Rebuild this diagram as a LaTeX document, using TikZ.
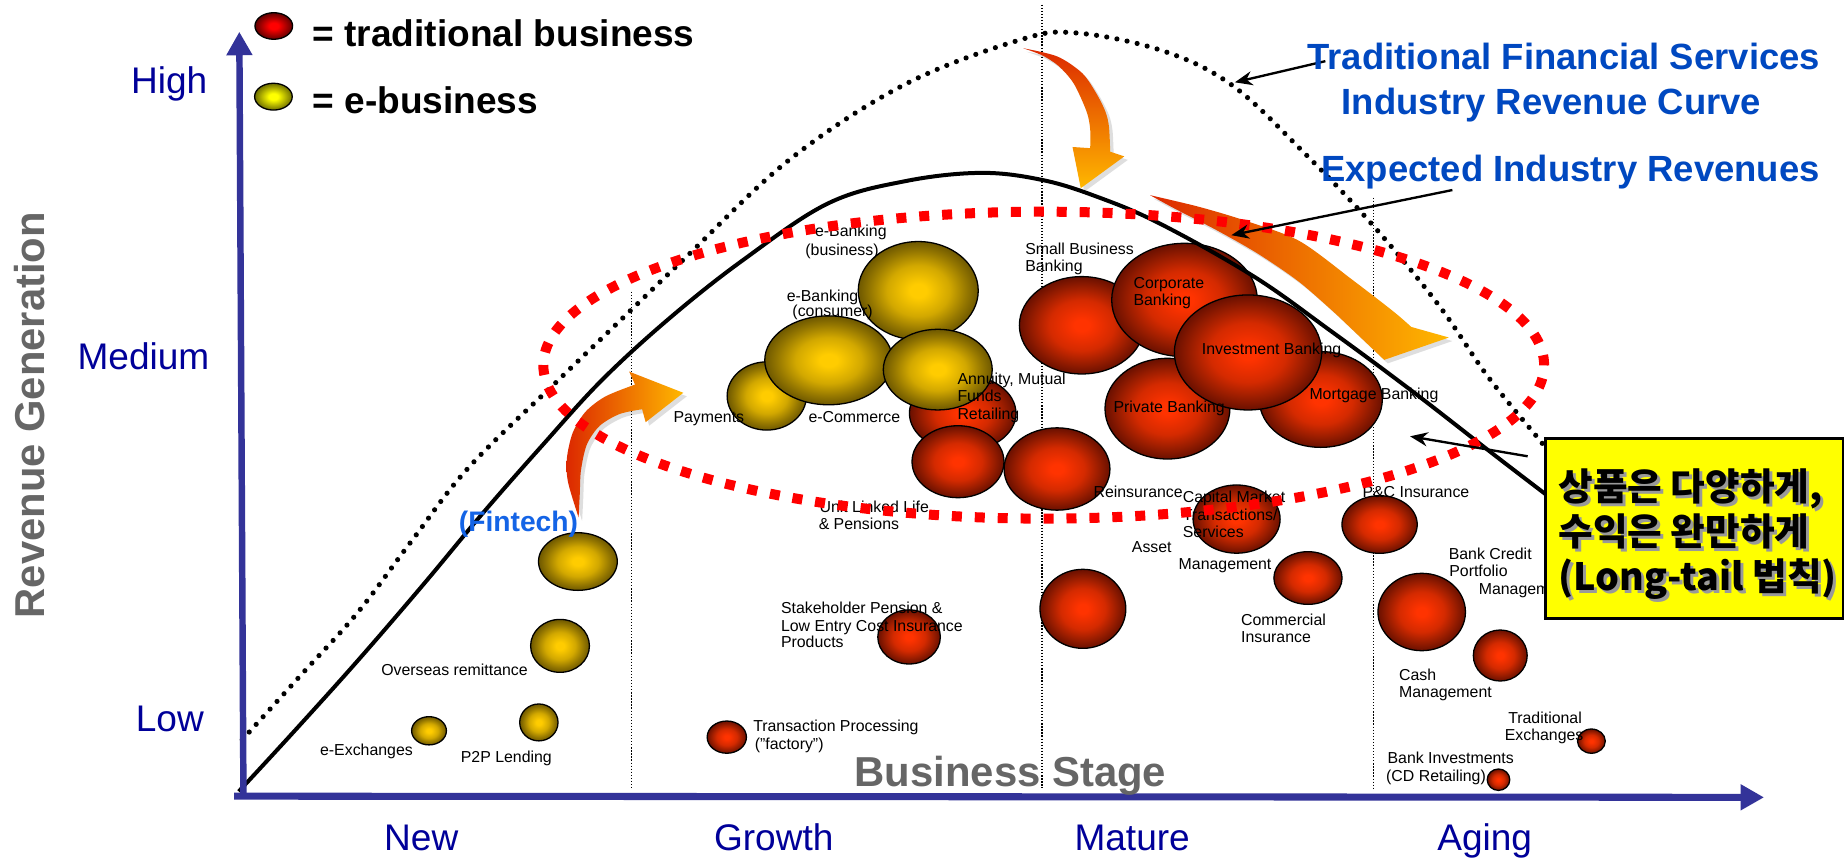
\documentclass[tikz,border=0pt]{standalone}
\usepackage{fontspec}
\setmainfont{Liberation Sans}
\newfontfamily\krfont{Noto Sans CJK KR}
\usetikzlibrary{shapes.geometric,arrows.meta}
\definecolor{axisblue}{HTML}{333399}
\definecolor{lblblue}{HTML}{000099}
\definecolor{titleblue}{HTML}{0048C0}
\definecolor{fintechblue}{HTML}{1464E6}
\definecolor{stagegray}{HTML}{666666}
\definecolor{rbc}{HTML}{FF3300}
\definecolor{rbm}{HTML}{D42A00}
\definecolor{rbd}{HTML}{961C00}
\definecolor{rbe}{HTML}{6A1000}
\definecolor{gbc}{HTML}{FFCC00}
\definecolor{gbm}{HTML}{D2A800}
\definecolor{gbd}{HTML}{967800}
\definecolor{gbe}{HTML}{6E5800}
\definecolor{lrc}{HTML}{FF0000}
\definecolor{lre}{HTML}{600000}
\definecolor{lyc}{HTML}{FFFF00}
\definecolor{lye}{HTML}{6E6E00}
\definecolor{arrred}{HTML}{DC2800}
\definecolor{arryel}{HTML}{FFB800}
\definecolor{boxyellow}{HTML}{FFFF00}
\pgfdeclareradialshading{redballsh}{\pgfpoint{0bp}{0bp}}{color(0bp)=(rbc); color(3bp)=(rbc); color(13bp)=(rbm); color(20bp)=(rbd); color(25bp)=(rbe); color(50bp)=(rbe)}
\pgfdeclareradialshading{goldballsh}{\pgfpoint{0bp}{0bp}}{color(0bp)=(gbc); color(3.5bp)=(gbc); color(13bp)=(gbm); color(20bp)=(gbd); color(25bp)=(gbe); color(50bp)=(gbe)}
\pgfdeclareradialshading{legredsh}{\pgfpoint{0bp}{0bp}}{color(0bp)=(lrc); color(6bp)=(lrc); color(25bp)=(lre); color(50bp)=(lre)}
\pgfdeclareradialshading{legyelsh}{\pgfpoint{0bp}{0bp}}{color(0bp)=(lyc); color(6bp)=(lyc); color(25bp)=(lye); color(50bp)=(lye)}
\tikzset{
  ball/.style={ellipse, draw=black, line width=1.1pt, inner sep=0pt, outer sep=0pt},
  redball/.style={ball, shading=redballsh},
  goldball/.style={ball, shading=goldballsh},
  lbl/.style={font=\fontsize{13.5}{15}\selectfont, inner sep=0pt, anchor=base west},
  biglbl/.style={font=\fontsize{31.5}{36}\selectfont, text=lblblue, inner sep=0pt},
  titletxt/.style={font=\bfseries\fontsize{31}{36}\selectfont, text=titleblue, inner sep=0pt, anchor=base},
  legtxt/.style={font=\bfseries\fontsize{31.5}{36}\selectfont, inner sep=0pt, anchor=base west},
  krtxt/.style={font=\krfont\bfseries\fontsize{32}{38}\selectfont, inner sep=0pt, anchor=base west},
  vdot/.style={line width=1.1pt, dash pattern=on 1.1pt off 1.5pt},
  pointer/.style={line width=2pt, -{Stealth[length=15pt,width=12pt]}},
  arrfin/.style={insert path={(492,440) -- plot[smooth] coordinates {(492,440) (483,410) (482,390) (487,368) (498,350) (515,337) (540,327)} -- (535,316) -- (581,334) -- (549,359) -- plot[smooth] coordinates {(546,348) (527,352) (510,362) (499,378) (494,400) (493,420) (492,440)} -- cycle}},
  arrtop/.style={insert path={(870,41) -- plot[smooth] coordinates {(870,41) (899,48) (920,62) (932,79) (940,95) (943,108) (944,129)} -- (956,133) -- (919,160) -- (912,125) -- plot[smooth] coordinates {(927,126) (927,110) (924,95) (913,71) (900,56) (886,47) (870,41)} -- cycle}},
  arrright/.style={insert path={(978,166) -- plot[smooth] coordinates {(978,166) (1020,176) (1060,188) (1105,205) (1150,238) (1185,265) (1200,278)} -- (1232,287) -- (1177,306) -- (1137,268) -- plot[smooth] coordinates {(1137,268) (1105,240) (1070,216) (1035,196) (1000,178) (978,166)} -- cycle}},
}
\newcommand\rball[5]{\node[redball, minimum width=#4pt, minimum height=#5pt] (#1) at (#2,#3) {};}
\newcommand\gball[5]{\node[goldball, minimum width=#4pt, minimum height=#5pt] (#1) at (#2,#3) {};}
\begin{document}
\begin{tikzpicture}[x=1pt,y=-1pt]
\useasboundingbox[fill=white] (0,0) rectangle (1568,729.6);
% vertical dotted stage separators
\coordinate (v1t) at (537,248); \coordinate (v1b) at (537,670);
\coordinate (v2t) at (886,4);   \coordinate (v2b) at (886,670);
\coordinate (v3t) at (1168,168);\coordinate (v3b) at (1168,670);
\draw[vdot] (v1t) -- (v1b);
\draw[vdot] (v2t) -- (v2b);
\draw[vdot] (v3t) -- (v3b);
% e-business balls
\gball{gfin}{491.4}{477.5}{67}{49}
\gball{gover}{476.2}{549.2}{50}{45}
\gball{gp2p}{458.2}{614.3}{32.6}{31.4}
\gball{gexch}{364.8}{621.4}{29.6}{24}
\gball{gbus}{780.8}{247.2}{102}{83.6}
\gball{gpay}{652}{336.7}{67.4}{58}
\gball{gcons}{704.6}{306.4}{108.6}{75.6}
\rball{rann}{818.6}{351.4}{90.6}{65.2}
\gball{gright}{797.4}{314.3}{92.6}{68.6}
% traditional balls
\rball{rul}{814.6}{392.6}{78.2}{61.2}
\rball{rre}{898.8}{398.8}{90}{70}
\rball{rsb}{919.8}{276.6}{106}{82.8}
\rball{rcorp}{1007.2}{255.1}{123.8}{96.4}
\rball{rpriv}{992.7}{347.5}{106.2}{85.6}
\rball{rmort}{1123.1}{339.7}{104.6}{81.4}
\rball{rinv}{1061.2}{299.7}{125.2}{97.8}
\rball{rcap}{1051.5}{441.4}{74}{58}
\rball{rpc}{1173.1}{446}{64}{49}
\rball{rmat}{920.8}{517.7}{73}{67.2}
\rball{rcom}{1112.2}{491.5}{58}{44.8}
\rball{rstk}{773}{541.6}{53.2}{46}
\rball{rtp}{618}{626.8}{33.4}{27.4}
\rball{rbc}{1208.9}{520.4}{74.4}{65.8}
\rball{rcash}{1275.7}{557.4}{45.8}{43.4}
\rball{rtex}{1353.2}{630.2}{23.6}{20.6}
\rball{rbi}{1274.2}{663}{19.2}{18.2}
% small labels
\node[lbl, anchor=base] (l1a) at (723.5,201) {e-Banking};
\node[lbl, anchor=base] (l1b) at (716,217.6) {(business)};
\node[lbl, anchor=base] (l2a) at (699.4,256.7) {e-Banking};
\node[lbl, anchor=base] (l2b) at (708,269.5) {(consumer)};
\node[lbl] (l3) at (572.5,359.3) {Payments};
\node[lbl] (l4) at (687.3,359.3) {e-Commerce};
\node[lbl] (l5a) at (814,327.3) {Annuity, Mutual};
\node[lbl] (l5b) at (814,341.4) {Funds};
\node[lbl] (l5c) at (814,356.5) {Retailing};
\node[lbl] (l6a) at (696.7,435.8) {Unit Linked Life};
\node[lbl] (l6b) at (696,450.6) {\& Pensions};
\node[lbl] (l7a) at (871.6,216.7) {Small Business};
\node[lbl] (l7b) at (871.6,230.9) {Banking};
\node[lbl] (l8a) at (963.7,245.4) {Corporate};
\node[lbl] (l8b) at (963.7,259.5) {Banking};
\node[lbl] (l9) at (1021.8,301.8) {Investment Banking};
\node[lbl] (l10) at (946.7,350.8) {Private Banking};
\node[lbl] (l11) at (1113.3,340) {Mortgage Banking};
\node[lbl] (l12) at (929.7,423.3) {Reinsurance};
\node[lbl] (l13a) at (1005.6,427.3) {Capital Market};
\node[lbl] (l13b) at (1005.6,442.3) {Transactions/};
\node[lbl] (l13c) at (1005.6,457.1) {Services};
\node[lbl] (l14) at (1158.4,423.3) {P\&C Insurance};
\node[lbl] (l15a) at (962.3,469.8) {Asset};
\node[lbl] (l15b) at (1002.1,484.6) {Management};
\node[lbl] (l16a) at (1055.2,532.2) {Commercial};
\node[lbl] (l16b) at (1055.2,546.3) {Insurance};
\node[lbl] (l17a) at (1231.7,475.5) {Bank Credit};
\node[lbl] (l17b) at (1232.2,490.5) {Portfolio};
\node[lbl] (l17c) at (1257.3,505.3) {Managem};
\node[lbl] (l18a) at (1189.5,579) {Cash};
\node[lbl] (l18b) at (1189.5,593.1) {Management};
\node[lbl] (l19a) at (1282.3,615.2) {Traditional};
\node[lbl] (l19b) at (1279.4,630) {Exchanges};
\node[lbl] (l20a) at (1179.7,649.2) {Bank Investments};
\node[lbl] (l20b) at (1178.5,664.5) {(CD Retailing)};
\node[lbl] (l21) at (324,574.7) {Overseas remittance};
\node[lbl] (l22) at (272,642.2) {e-Exchanges};
\node[lbl] (l23) at (391.7,648.4) {P2P Lending};
\node[lbl] (l24a) at (663.9,521.7) {Stakeholder Pension \&};
\node[lbl] (l24b) at (663.9,537.3) {Low Entry Cost Insurance};
\node[lbl] (l24c) at (663.9,550.6) {Products};
\node[lbl] (l25a) at (640.3,622.3) {Transaction Processing};
\node[lbl] (l25b) at (641.6,637) {("factory")};
% curved orange arrows
\fill[black, opacity=0.13, xshift=3pt, yshift=-3pt, arrfin];
\shade[left color=arrred, right color=arryel, arrfin];
\fill[black, opacity=0.13, xshift=3pt, yshift=-3pt, arrtop];
\shade[top color=arrred, bottom color=arryel, arrtop];
\fill[black, opacity=0.13, xshift=3pt, yshift=-3pt, arrright];
\shade[left color=arrred, right color=arryel, arrright];
% revenue curves
\draw[line width=4.4pt, line cap=round, dash pattern=on 0pt off 8.8pt]
  plot[smooth, tension=0.6] coordinates {(206,629) (255,575) (304,521) (350,460) (399,397) (475,323) (530,270) (584,218) (671,136) (769,72) (867,34) (915,28) (988,43) (1047,72) (1107,128) (1166,190) (1223,259) (1265,320) (1309,374) (1318,386)};
\draw[line width=3.4pt]
  plot[smooth, tension=0.6] coordinates {(203,673) (250,622) (304,562) (360,497) (410,437) (460,380) (512,323) (570,270) (632,221) (704,173) (770,154) (834,147) (886,153) (932,167) (986,190) (1066,235) (1131,281) (1200,332) (1276,391) (1335,436)};
% red dashed ellipse
\node[draw=red, line width=8.5pt, dash pattern=on 8.5pt off 11pt, ellipse, inner sep=0pt, minimum width=851pt, minimum height=261pt] (focus) at (887.5,310.5) {};
% pointer arrows
\coordinate (p1s) at (1127,52);   \coordinate (p1e) at (1050,70);
\coordinate (p2s) at (1235,161.6);\coordinate (p2e) at (1047,200);
\coordinate (p3s) at (1299,388);  \coordinate (p3e) at (1199,371);
\draw[pointer] (p1s) -- (p1e);
\draw[pointer] (p2s) -- (p2e);
\draw[pointer] (p3s) -- (p3e);
% axes
\coordinate (yb) at (207,677); \coordinate (yt) at (203.5,27);
\coordinate (xo) at (199,677); \coordinate (xe) at (1500,678);
\draw[axisblue, line width=5.5pt, -{Triangle[length=20pt,width=21pt]}] (yb) -- (yt);
\draw[axisblue, line width=6pt, -{Triangle[length=20pt,width=21pt]}] (xo) -- (xe);
% yellow call-out box
\node[draw=black, line width=2.5pt, fill=boxyellow, minimum width=253pt, minimum height=153pt, inner sep=0pt, anchor=north west] (box) at (1313,371.3) {};
\node[krtxt, text=black!40] (k1s) at (1327.5,428.5) {상품은 다양하게,};
\node[krtxt] (k1) at (1325,426) {상품은 다양하게,};
\node[krtxt, text=black!40] (k2s) at (1327.5,466.5) {수익은 완만하게};
\node[krtxt] (k2) at (1325,464) {수익은 완만하게};
\node[krtxt, text=black!40] (k3s) at (1327.5,504.5) {(Long-tail 법칙)};
\node[krtxt] (k3) at (1325,502) {(Long-tail 법칙)};
% axis labels
\node[biglbl, anchor=base east] (high) at (176.5,79.4) {High};
\node[biglbl, anchor=base east] (med) at (178.2,314.6) {Medium};
\node[biglbl, anchor=base east] (low) at (173.5,622.2) {Low};
\node[biglbl, anchor=base west] (snew) at (326.5,723) {New};
\node[biglbl, anchor=base west] (sgro) at (607,723) {Growth};
\node[biglbl, anchor=base west] (smat) at (913.5,723) {Mature};
\node[biglbl, anchor=base west] (sage) at (1222,723) {Aging};
\node[font=\bfseries\fontsize{35.5}{40}\selectfont, text=stagegray, rotate=90, anchor=base, inner sep=0pt] (revgen) at (38,353) {Revenue Generation};
\node[font=\bfseries\fontsize{35.6}{40}\selectfont, text=stagegray, anchor=base west, inner sep=0pt] (bstage) at (726.4,669) {Business Stage};
\node[font=\bfseries\fontsize{24}{28}\selectfont, text=fintechblue, anchor=base west, inner sep=0pt] (fintech) at (390,452) {(Fintech)};
% legend
\node[ball, shading=legredsh, minimum width=32pt, minimum height=22.6pt] (legr) at (232.8,22.1) {};
\node[ball, shading=legyelsh, minimum width=32pt, minimum height=22.8pt] (legy) at (232.5,82.2) {};
\node[legtxt] (legrt) at (265.6,39.7) {= traditional business};
\node[legtxt] (legyt) at (265.6,96.4) {= e-business};
% titles
\node[titletxt] (tt1) at (1329.6,59.4) {Traditional Financial Services};
\node[titletxt] (tt2) at (1319.3,97.7) {Industry Revenue Curve};
\node[titletxt] (tt3) at (1335.4,154.3) {Expected Industry Revenues};
\end{tikzpicture}
\end{document}
